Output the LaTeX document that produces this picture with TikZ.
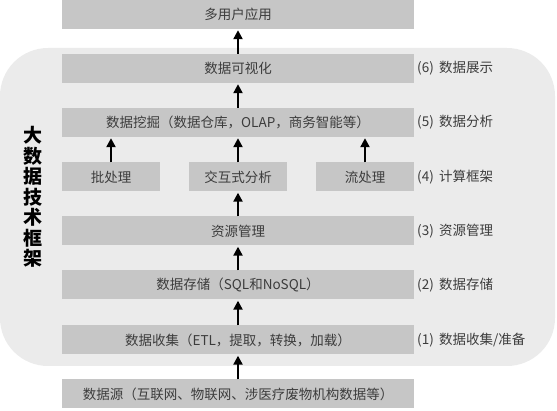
\documentclass[tikz,border=0pt]{standalone}
\usepackage{fontspec}
\setmainfont{Noto Sans CJK SC}
\usetikzlibrary{arrows.meta}
\definecolor{bgc}{HTML}{EBEBEB}
\definecolor{boxc}{HTML}{C6C6C6}
\definecolor{txtc}{HTML}{3C3C3C}
\begin{document}
\begin{tikzpicture}[x=1pt,y=-1pt,
  layer/.style={fill=boxc, draw=none, minimum width=352pt, minimum height=29pt, inner sep=0pt, text=txtc, font=\fontsize{13.5}{15}\selectfont},
  small/.style={layer, minimum width=98pt},
  lab/.style={anchor=west, inner sep=0pt, text=txtc, font=\fontsize{13.5}{15}\selectfont},
  up/.style={-{Triangle[length=9pt,width=9pt]}, line width=2.2pt, black, shorten >=1pt}]
\useasboundingbox (0,0) rectangle (557,411);
\fill[bgc, rounded corners=48pt] (0,48) rectangle (555,366);
\node[layer] (app) at (238,14.5) {多用户应用};
\node[layer] (vis) at (238,68.5) {数据可视化};
\node[layer] (mine) at (238,122.5) {数据挖掘（数据仓库，OLAP，商务智能等）};
\node[small] (batch) at (111,177) {批处理};
\node[small] (inter) at (238,177) {交互式分析};
\node[small] (stream) at (365,177) {流处理};
\node[layer] (res) at (238,231) {资源管理};
\node[layer] (store) at (238,285) {数据存储（SQL和NoSQL）};
\node[layer] (coll) at (238,340) {数据收集（ETL，提取，转换，加载）};
\node[layer] (src) at (238,394) {数据源（互联网、物联网、涉医疗废物机构数据等）};
\node[lab] (l6) at (417,68.5) {(6)\, 数据展示};
\node[lab] (l5) at (417,122.5) {(5)\, 数据分析};
\node[lab] (l4) at (417,177) {(4)\, 计算框架};
\node[lab] (l3) at (417,231) {(3)\, 资源管理};
\node[lab] (l2) at (417,285) {(2)\, 数据存储};
\node[lab] (l1) at (417,340) {(1)\, 数据收集/准备};
\node[text=black, font=\fontsize{19}{20.5}\bfseries\selectfont, align=center, inner sep=0pt] (title) at (33,197) {大\\数\\据\\技\\术\\框\\架};
\draw[up] (vis.north) -- (app.south);
\draw[up] (mine.north) -- (vis.south);
\draw[up] (batch.north) -- (batch.north |- mine.south);
\draw[up] (inter.north) -- (mine.south);
\draw[up] (stream.north) -- (stream.north |- mine.south);
\draw[up] (res.north) -- (inter.south);
\draw[up] (store.north) -- (res.south);
\draw[up] (coll.north) -- (store.south);
\draw[up] (src.north) -- (coll.south);
\end{tikzpicture}
\end{document}
